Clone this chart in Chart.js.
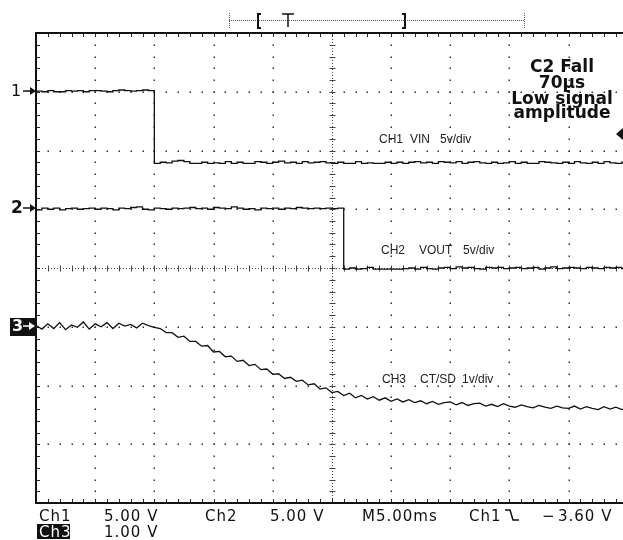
<!DOCTYPE html>
<html>
<head>
<meta charset="utf-8">
<script src="https://cdn.jsdelivr.net/npm/chart.js@4.4.1/dist/chart.umd.min.js"></script>
<style>
html, body { margin: 0; padding: 0; background: #fff; overflow: hidden; }
#wrap { width: 623px; height: 540px; }
</style>
</head>
<body>
<div id="wrap"><canvas id="scope" width="623" height="540"></canvas></div>
<script>
'use strict';

// sample times in ms (M5.00ms / div)
var timeMs = [
    0, 0.5, 1, 1.5, 2, 2.5, 3, 3.5, 4, 4.5, 5, 5.5, 6, 6.5, 7, 7.5, 8, 8.5, 9, 9.5,
    10, 10.5, 11, 11.5, 12, 12.5, 13, 13.5, 14, 14.5, 15, 15.5, 16, 16.5, 17, 17.5, 18, 18.5, 19, 19.5,
    20, 20.5, 21, 21.5, 22, 22.5, 23, 23.5, 24, 24.5, 25, 25.5, 26, 26.5, 27, 27.5, 28, 28.5, 29, 29.5,
    30, 30.5, 31, 31.5, 32, 32.5, 33, 33.5, 34, 34.5, 35, 35.5, 36, 36.5, 37, 37.5, 38, 38.5, 39, 39.5,
    40, 40.5, 41, 41.5, 42, 42.5, 43, 43.5, 44, 44.5, 45, 45.5, 46, 46.5, 47, 47.5, 48, 48.5, 49, 49.5,
    50
];

// CH1 VIN, volts
var ch1Volts = [
    0, 0.05, 0, 0.1, 0, 0, 0.1, 0.05, 0.1, 0, 0.1, 0.1, 0.05, 0, 0.1, 0.15, 0.1, 0.05, 0.1, 0.15, 0.1,
    -6.1, -6.0, -6.05, -5.9, -5.85, -5.95, -6.1, -6.1, -6.0, -6.1,
    -6.05, -6.1, -5.95, -6.1, -6.0, -6.1, -6.1, -5.95, -6.0, -6.1,
    -6.0, -5.9, -6.05, -6.0, -6.1, -5.95, -6.05, -6.0, -5.95, -6.05,
    -6.1, -6.0, -6.1, -6.1, -5.95, -6.1, -6.05, -6.1, -6.1, -6.0,
    -6.1, -6.0, -6.1, -6.0, -5.95, -6.05, -6.0, -6.1, -5.95, -6.0,
    -6.05, -5.95, -6.1, -6.0, -5.95, -6.05, -6.1, -6.0, -6.1, -6.05,
    -5.95, -6.1, -6.0, -6.1, -6.1, -5.95, -6.0, -6.05, -6.1, -6.0,
    -6.1, -5.95, -6.05, -6.1, -6.0, -6.1, -5.95, -6.05, -6.1, -6.0
];

// CH2 VOUT, volts
var ch2Volts = [
    0.05, -0.05, 0.1, 0, 0.1, -0.05, 0.05, 0.1, 0, 0.05,
    0.1, 0, 0.1, 0.05, -0.05, 0.1, 0.05, 0.15, 0.2, 0,
    -0.05, 0.1, 0.05, 0, 0.1, 0.05, 0.1, 0.15, 0.05, 0.1,
    0, 0.15, 0.1, 0.05, 0.2, 0.1, 0, 0.05, -0.05, 0.1,
    0.05, 0.1, 0, 0.1, 0.05, 0.15, 0.1, 0.05, 0.1, 0.05,
    0.1, 0.05, 0.1,
    -5.1, -5.0, -5.1, -5.05, -4.95, -5.1, -5.1, -5.1, -5.1, -5.1,
    -5.05, -5.0, -5.1, -4.95, -5.05, -5.1, -5.0, -4.95, -5.05, -4.9,
    -5.0, -4.95, -5.05, -5.1, -4.95, -5.0, -4.95, -5.05, -5.0, -4.95,
    -5.05, -5.0, -4.95, -5.1, -5.0, -4.9, -5.05, -5.0, -4.95, -5.0,
    -5.05, -4.95, -5.0, -5.05, -4.95, -5.0, -4.95, -5.05
];

// CH3 CT/SD, volts
var ch3Volts = [
    0.02, -0.04, 0.05, -0.03, 0.07, -0.05, 0.03, -0.01, 0.08, -0.04, 0.05, 0.0, 0.07, -0.03, 0.06, 0.01, 0.04, -0.02, 0.06, 0.02, -0.01,
    -0.03, -0.10, -0.10, -0.18, -0.16, -0.25, -0.25, -0.33, -0.32, -0.43,
    -0.42, -0.51, -0.50, -0.59, -0.57, -0.66, -0.64, -0.73, -0.72, -0.81,
    -0.80, -0.88, -0.86, -0.93, -0.91, -0.99, -0.97, -1.06, -1.04, -1.12,
    -1.10, -1.17, -1.13, -1.21, -1.17, -1.23, -1.19, -1.25, -1.21, -1.27,
    -1.23, -1.28, -1.24, -1.29, -1.26, -1.31, -1.27, -1.32, -1.29, -1.28,
    -1.33, -1.29, -1.34, -1.31, -1.30, -1.35, -1.32, -1.36, -1.31, -1.35,
    -1.37, -1.33, -1.36, -1.38, -1.34, -1.37, -1.39, -1.35, -1.38, -1.39,
    -1.35, -1.40, -1.36, -1.39, -1.41, -1.36, -1.40, -1.37, -1.41, -1.38
];

// channel setup
var channelNames = ['1', '2', '3'];
var voltsPerDiv = [5, 5, 1];
var groundDiv = [3, 1, -1];          // ground marker, divisions from centre
var traceLabels = [
    ['CH1', 'VIN', '5v/div'],
    ['CH2', 'VOUT', '5v/div'],
    ['CH3', 'CT/SD', '1v/div']
];
var noteLines = ['C2 Fall', '70\u00b5s', 'Low signal', 'amplitude'];
var msPerDiv = 5;
var triggerVolts = -3.6;             // Ch1, falling edge

function toDiv(ch, volts) {
    return volts.map(function(v, i) {
        return { x: timeMs[i], y: v / voltsPerDiv[ch] + groundDiv[ch] };
    });
}

var INK = '#111';

var graticule = {
    id: 'graticule',
    beforeDatasetsDraw: function(chart) {
        var ctx = chart.ctx;
        var xs = chart.scales.x, ys = chart.scales.y;
        var a = chart.chartArea;
        var d, m, px, py;
        ctx.save();
        ctx.fillStyle = '#333';
        // dotted major lines
        for (d = 1; d <= 9; d++) {
            if (d === 5) continue;
            px = Math.round(xs.getPixelForValue(d * msPerDiv));
            for (m = -19; m <= 19; m++) {
                py = Math.round(ys.getPixelForValue(m * 0.2));
                ctx.fillRect(px - 0.5, py - 0.5, 1.5, 1.5);
            }
        }
        for (d = -3; d <= 3; d++) {
            if (d === 0) continue;
            py = Math.round(ys.getPixelForValue(d));
            for (m = 1; m <= 50; m++) {
                px = Math.round(xs.getPixelForValue(m * msPerDiv / 5));
                ctx.fillRect(px - 0.5, py - 0.5, 1.5, 1.5);
            }
        }
        // centre lines with minor ticks
        var cx = Math.round(xs.getPixelForValue(5 * msPerDiv)) + 0.5;
        var cy = Math.round(ys.getPixelForValue(0)) + 0.5;
        ctx.strokeStyle = '#444';
        ctx.lineWidth = 1;
        ctx.setLineDash([1, 2]);
        ctx.beginPath();
        ctx.moveTo(a.left, cy); ctx.lineTo(a.right, cy);
        ctx.moveTo(cx, a.top); ctx.lineTo(cx, a.bottom);
        ctx.stroke();
        ctx.setLineDash([]);
        ctx.beginPath();
        for (m = 1; m <= 50; m++) {
            px = Math.round(xs.getPixelForValue(m * msPerDiv / 5)) + 0.5;
            ctx.moveTo(px, cy - 3); ctx.lineTo(px, cy + 3);
        }
        for (m = -19; m <= 19; m++) {
            py = Math.round(ys.getPixelForValue(m * 0.2)) + 0.5;
            ctx.moveTo(cx - 3, py); ctx.lineTo(cx + 3, py);
        }
        ctx.stroke();
        // frame with inside ticks
        ctx.strokeStyle = INK;
        ctx.lineWidth = 2;
        ctx.beginPath();
        ctx.moveTo(a.right, a.top); ctx.lineTo(a.left, a.top);
        ctx.lineTo(a.left, a.bottom); ctx.lineTo(a.right, a.bottom);
        ctx.stroke();
        ctx.lineWidth = 1;
        ctx.strokeStyle = '#222';
        ctx.beginPath();
        for (m = 1; m <= 50; m++) {
            px = Math.round(xs.getPixelForValue(m * msPerDiv / 5)) + 0.5;
            ctx.moveTo(px, a.top); ctx.lineTo(px, a.top + 4);
            ctx.moveTo(px, a.bottom); ctx.lineTo(px, a.bottom - 4);
        }
        for (m = -19; m <= 19; m++) {
            py = Math.round(ys.getPixelForValue(m * 0.2)) + 0.5;
            ctx.moveTo(a.left, py); ctx.lineTo(a.left + 4, py);
        }
        ctx.stroke();
        ctx.restore();
    }
};

function arrow(ctx, x0, x1, y, color) {
    ctx.strokeStyle = color;
    ctx.fillStyle = color;
    ctx.lineWidth = 1.5;
    ctx.beginPath();
    ctx.moveTo(x0, y); ctx.lineTo(x1 - 4, y);
    ctx.stroke();
    ctx.beginPath();
    ctx.moveTo(x1, y); ctx.lineTo(x1 - 6, y - 4); ctx.lineTo(x1 - 6, y + 4);
    ctx.closePath();
    ctx.fill();
}

var readout = {
    id: 'readout',
    afterDraw: function(chart) {
        var ctx = chart.ctx;
        var ys = chart.scales.y;
        ctx.save();
        ctx.textBaseline = 'middle';

        // ground markers
        for (var c = 0; c < 3; c++) {
            var gy = Math.round(ys.getPixelForValue(groundDiv[c])) - 1;
            ctx.textAlign = 'left';
            if (c === 2) {
                ctx.fillStyle = INK;
                ctx.fillRect(10, gy - 8, 26, 18);
                ctx.fillStyle = '#fff';
                ctx.font = 'bold 16px "DejaVu Sans"';
                ctx.fillText(channelNames[c], 12, gy + 1);
                arrow(ctx, 23, 35, gy, '#fff');
            } else {
                ctx.fillStyle = INK;
                ctx.font = (c === 1 ? 'bold 17px' : '16px') + ' "DejaVu Sans"';
                ctx.fillText(channelNames[c], 11, gy + 1);
                arrow(ctx, 23, 36, gy, INK);
            }
        }

        // trigger level marker (Ch1)
        var ty = Math.round(ys.getPixelForValue(triggerVolts / voltsPerDiv[0] + groundDiv[0]));
        ctx.fillStyle = INK;
        ctx.beginPath();
        ctx.moveTo(616, ty); ctx.lineTo(623, ty - 6); ctx.lineTo(623, ty + 6);
        ctx.closePath();
        ctx.fill();

        // trace labels
        ctx.font = '12px "Liberation Sans"';
        ctx.textBaseline = 'alphabetic';
        ctx.fillStyle = '#222';
        var labelPos = [[379, 410, 440, 143], [381, 419, 463, 254], [382, 420, 462, 383]];
        for (var t = 0; t < 3; t++) {
            for (var k = 0; k < 3; k++) {
                ctx.fillText(traceLabels[t][k], labelPos[t][k], labelPos[t][3]);
            }
        }

        // note
        ctx.font = 'bold 17px "DejaVu Sans"';
        ctx.textAlign = 'center';
        ctx.fillStyle = INK;
        var noteBase = [72, 88, 104, 118];
        for (var n = 0; n < noteLines.length; n++) {
            ctx.fillText(noteLines[n], 562, noteBase[n]);
        }

        // record bar with trigger position
        ctx.strokeStyle = '#555';
        ctx.lineWidth = 1;
        ctx.setLineDash([1, 1]);
        ctx.beginPath();
        ctx.moveTo(229, 20.5); ctx.lineTo(524, 20.5);
        ctx.moveTo(229.5, 13); ctx.lineTo(229.5, 29);
        ctx.moveTo(524.5, 13); ctx.lineTo(524.5, 29);
        ctx.stroke();
        ctx.setLineDash([]);
        ctx.strokeStyle = INK;
        ctx.lineWidth = 2;
        ctx.beginPath();
        ctx.moveTo(261, 14); ctx.lineTo(258, 14); ctx.lineTo(258, 28); ctx.lineTo(261, 28);
        ctx.moveTo(402, 14); ctx.lineTo(405, 14); ctx.lineTo(405, 28); ctx.lineTo(402, 28);
        ctx.stroke();
        ctx.lineWidth = 1.5;
        ctx.beginPath();
        ctx.moveTo(282, 14); ctx.lineTo(294, 14);
        ctx.moveTo(288, 14); ctx.lineTo(288, 27);
        ctx.stroke();

        // status line
        ctx.textAlign = 'left';
        ctx.font = '15px "DejaVu Sans"';
        ctx.letterSpacing = '1px';
        ctx.fillStyle = INK;
        var row1 = [['Ch1', 39], ['5.00 V', 104], ['Ch2', 205], ['5.00 V', 270],
                    ['M5.00ms', 362], ['Ch1', 469], ['\u2212', 542], ['3.60 V', 558]];
        row1.forEach(function(r) { ctx.fillText(r[0], r[1], 521); });
        // falling edge symbol
        ctx.lineWidth = 1.5;
        ctx.beginPath();
        ctx.moveTo(505, 510); ctx.lineTo(510, 510); ctx.lineTo(513, 520); ctx.lineTo(519, 520);
        ctx.stroke();
        ctx.fillRect(37, 524, 33, 15);
        ctx.fillStyle = '#fff';
        ctx.fillText('Ch3', 39, 537);
        ctx.fillStyle = INK;
        ctx.fillText('1.00 V', 104, 537);
        ctx.restore();
    }
};

function traceSet(ch, values, stepped) {
    return {
        label: 'CH' + channelNames[ch],
        data: toDiv(ch, values),
        borderColor: INK,
        borderWidth: 1.3,
        pointRadius: 0,
        stepped: stepped,
        tension: 0,
        fill: false
    };
}

new Chart(document.getElementById('scope').getContext('2d'), {
    type: 'line',
    data: {
        datasets: [
            traceSet(0, ch1Volts, 'after'),
            traceSet(1, ch2Volts, 'after'),
            traceSet(2, ch3Volts, false)
        ]
    },
    options: {
        responsive: false,
        animation: false,
        events: [],
        layout: { padding: { left: 36, top: 33, right: 0, bottom: 37 } },
        plugins: { legend: { display: false }, tooltip: { enabled: false } },
        scales: {
            x: { type: 'linear', min: 0, max: 49.6, display: false },
            y: { type: 'linear', min: -4, max: 4, display: false }
        }
    },
    plugins: [graticule, readout]
});
</script>
</body>
</html>
